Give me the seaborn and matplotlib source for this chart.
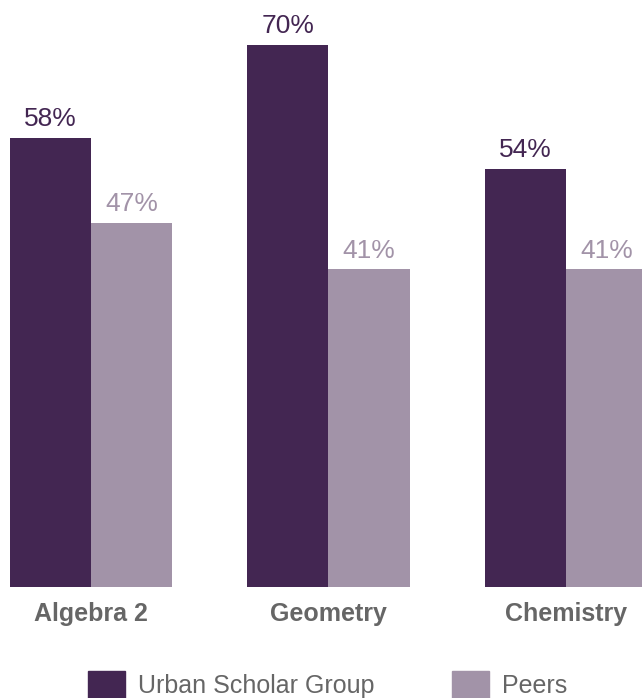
import pandas as pd
import seaborn as sns
import matplotlib.pyplot as plt

# data
subjects = ["Algebra 2", "Geometry", "Chemistry"]
urban = [58, 70, 54]
peers = [47, 41, 41]
groups = ["Urban Scholar Group", "Peers"]
colors = ["#432652", "#a293a8"]

df = pd.DataFrame({
    "subject": subjects * 2,
    "value": urban + peers,
    "group": [groups[0]] * 3 + [groups[1]] * 3,
})

sns.set_style("white")
plt.rcParams["font.family"] = ["Liberation Sans", "DejaVu Sans"]

fig = plt.figure(figsize=(6.42, 6.98), dpi=100)
ax = fig.add_axes([0, 1 - 587 / 698, 1, 587 / 698])

sns.barplot(data=df, x="subject", y="value", hue="group", palette=colors,
            saturation=1, width=0.686, gap=0, linewidth=0, ax=ax, legend=False)

# percent labels above bars
for cont, c in zip(ax.containers, colors):
    ax.bar_label(cont, labels=[f"{v:.0f}%" for v in cont.datavalues],
                 color=c, fontsize=19, padding=5)

ax.set_xlim(-0.383, 2.32)
ax.set_ylim(0, 75.8)
ax.set_xlabel("")
ax.set_ylabel("")
ax.set_yticks([])
ax.tick_params(axis="x", length=0, pad=11, labelsize=18, labelcolor="#666666")
for t in ax.get_xticklabels():
    t.set_fontweight("bold")
sns.despine(ax=ax, left=True, bottom=True, top=True, right=True)

# legend along the bottom
handles = [plt.Rectangle((0, 0), 1, 1, color=c) for c in colors]
fig.legend(handles, groups, loc="lower left", bbox_to_anchor=(88 / 642, 0),
           ncol=2, frameon=False, fontsize=18, labelcolor="#666666",
           handlelength=1.48, handleheight=1.28, handletextpad=0.52,
           columnspacing=3.08, borderpad=0, borderaxespad=0)

fig.savefig("out.png", dpi=100)
